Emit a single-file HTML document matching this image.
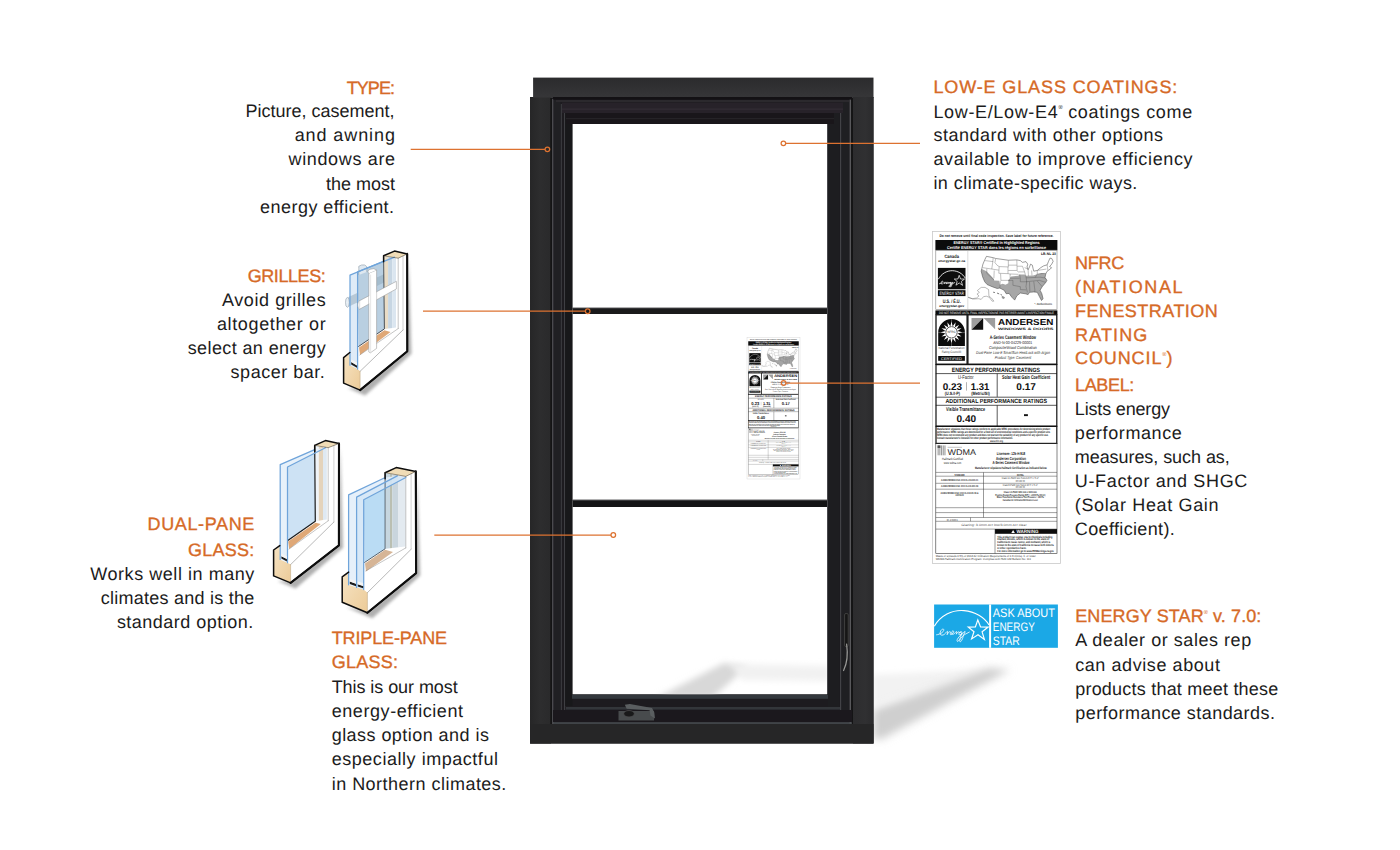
<!DOCTYPE html>
<html><head><meta charset="utf-8"><title>Energy-efficient window features</title>
<style>
html,body{margin:0;padding:0;background:#fff}
body{width:1400px;height:850px;overflow:hidden;position:relative;font-family:"Liberation Sans",sans-serif}
svg{position:absolute;left:0;top:0;display:block}
svg text{font-family:"Liberation Sans",sans-serif;text-rendering:geometricPrecision}
.t text{font-size:18.0px}
</style></head><body>
<svg width="1400" height="850" viewBox="0 0 1400 850">
<defs>
<filter id="blur6" x="-30%" y="-30%" width="160%" height="160%"><feGaussianBlur stdDeviation="4.5"/></filter>
<filter id="blur3" x="-30%" y="-30%" width="160%" height="160%"><feGaussianBlur stdDeviation="3"/></filter>
<filter id="blur1" x="-30%" y="-30%" width="160%" height="160%"><feGaussianBlur stdDeviation="1.6"/></filter>
<linearGradient id="gTop" x1="0" y1="0" x2="0" y2="1"><stop offset="0" stop-color="#2b2b2d"/><stop offset="1" stop-color="#363638"/></linearGradient>
<linearGradient id="gLeftOuter" x1="0" y1="0" x2="1" y2="0"><stop offset="0" stop-color="#262627"/><stop offset="0.5" stop-color="#2d2d2e"/><stop offset="1" stop-color="#2a2a2b"/></linearGradient>
<linearGradient id="gRightOuter" x1="0" y1="0" x2="1" y2="0"><stop offset="0" stop-color="#2c2c2e"/><stop offset="0.6" stop-color="#303032"/><stop offset="1" stop-color="#2a2a2c"/></linearGradient>
<linearGradient id="gShadowOut" x1="0" y1="0" x2="1" y2="0"><stop offset="0" stop-color="#bdbdbd"/><stop offset="0.5" stop-color="#d6d6d6"/><stop offset="1" stop-color="#ffffff"/></linearGradient>
<linearGradient id="gShadowIn" x1="0" y1="0" x2="1" y2="0"><stop offset="0" stop-color="#ffffff"/><stop offset="0.35" stop-color="#ececec"/><stop offset="1" stop-color="#dcdcdc"/></linearGradient>
<linearGradient id="gWood" x1="0" y1="0" x2="1" y2="1"><stop offset="0" stop-color="#f6e3c3"/><stop offset="1" stop-color="#eccb98"/></linearGradient>
</defs>

<g>
<polygon points="873,675 985,669 873,706" fill="#f2f2f2" filter="url(#blur3)"/>
<polygon points="873,710 988,668 1010,670 950,702 882,739 873,739" fill="#cfcfcf" filter="url(#blur6)"/>
</g>

<g id="frame">
<!-- body of frame -->
<rect x="530" y="97" width="343.5" height="646.5" fill="#1d1b1f"/>
<rect x="533.1" y="77.6" width="340.4" height="20.4" fill="url(#gTop)"/>
<!-- outer faces -->
<rect x="530" y="97.5" width="21" height="646" fill="url(#gLeftOuter)"/>
<rect x="853" y="97" width="20.5" height="646.5" fill="url(#gRightOuter)"/>
<rect x="530.3" y="724" width="343.2" height="19.5" fill="#262627"/>
<!-- grooves + highlights, left -->
<rect x="550.3" y="98" width="1.6" height="626" fill="#141415"/>
<rect x="552.2" y="99" width="1.3" height="625" fill="#56565a"/>
<rect x="553.6" y="100" width="7" height="622" fill="#202023"/>
<rect x="560.8" y="104" width="1.2" height="614" fill="#38383c"/>
<rect x="564" y="108" width="1.2" height="604" fill="#3f3f43"/>
<rect x="565.2" y="112" width="7.3" height="594" fill="#18181a"/>
<!-- right -->
<rect x="827" y="124" width="1" height="570" fill="#47474b"/>
<rect x="828" y="112" width="11.5" height="596" fill="#1d1d20"/>
<rect x="840" y="106" width="1.4" height="610" fill="#424246"/>
<rect x="841.5" y="102" width="8" height="618" fill="#1f1f22"/>
<rect x="849.6" y="99" width="1.4" height="625" fill="#58585b"/>
<rect x="851.2" y="98" width="1.7" height="626" fill="#141415"/>
<!-- top inner steps -->
<rect x="553" y="97" width="299" height="2.6" fill="#131114"/>
<rect x="556" y="100" width="293" height="2" fill="#2b292d"/>
<rect x="562" y="102.5" width="281" height="10.5" fill="#272229"/>
<rect x="562" y="108.5" width="281" height="1.3" fill="#322c34"/>
<rect x="566" y="113" width="268" height="11" fill="#19161a"/>
<rect x="566" y="118" width="268" height="1.2" fill="#252327"/>
<!-- bottom inner steps -->
<rect x="572" y="694.6" width="256" height="4.2" fill="#33383d"/>
<rect x="566" y="707" width="274" height="2.6" fill="#33363a"/>
<rect x="553" y="722.3" width="299" height="1.5" fill="#4a4f53"/>
<rect x="553" y="710" width="299" height="12" fill="#1b181d"/>
<!-- glass -->
<rect x="572.6" y="124" width="254.4" height="570.2" fill="#ffffff"/>
<!-- shadow seen through glass -->
<g clip-path="url(#glassClip)">
<polygon points="656,698 724,663 747,667 712,698" fill="#d8d8d8" filter="url(#blur3)"/>
<polygon points="730,664 830,666 830,681 742,680" fill="#f1f1f1" filter="url(#blur3)"/>
</g>
<clipPath id="glassClip"><rect x="572.6" y="124" width="254.4" height="570.2"/></clipPath>
<!-- grille bars -->
<rect x="572.6" y="308" width="254.4" height="6" fill="#1a1a1b"/>
<rect x="572.6" y="307.6" width="254.4" height="1.2" fill="#3a3a3c"/>
<rect x="572.6" y="500" width="254.4" height="7" fill="#141415"/>
<rect x="572.6" y="499.6" width="254.4" height="1.4" fill="#3a3a3c"/>
<!-- crank handle -->
<rect x="618.5" y="711" width="35.5" height="9.5" fill="#484b4d"/>
<polygon points="624.8,704.8 629.8,704.1 652,708 654.3,712.6 655,718.6 650.4,715.6 649.6,710.2 626.7,708.7" fill="#5a5e60"/>
<ellipse cx="629" cy="713.7" rx="5.3" ry="3.2" fill="#19191a" stroke="#4d4d4f" stroke-width="0.7"/>
<!-- sash lock on right -->
<rect x="844.6" y="613.5" width="3.6" height="33" rx="1.4" fill="#161616" stroke="#5a5a58" stroke-width="0.6"/>
<path d="M846.6 644 C848.2 655 847.2 663 843.6 670.5" fill="none" stroke="#9a9a98" stroke-width="1.2" stroke-linecap="round"/>
</g>

<g id="nfrcLabel">
<rect x="932.40" y="231.40" width="128.00" height="332.00" fill="#ffffff" stroke="#c9c9c9" stroke-width="0.80"/>
<text x="996.50" y="237.00" font-size="3.60" text-anchor="middle" font-weight="bold" textLength="114.00" lengthAdjust="spacingAndGlyphs" fill="#222">Do not remove until final code inspection. Save label for future reference.</text>
<rect x="935.40" y="240.00" width="122.00" height="10.20" fill="#0c0c0c"/>
<text x="996.50" y="244.40" font-size="4.10" text-anchor="middle" font-weight="bold" textLength="86.00" lengthAdjust="spacingAndGlyphs" fill="#fff">ENERGY STAR® Certified in Highlighted Regions</text>
<text x="996.50" y="249.00" font-size="4.10" text-anchor="middle" font-weight="bold" textLength="99.00" lengthAdjust="spacingAndGlyphs" fill="#fff">Certifié ENERGY STAR dans les régions en surbrillance</text>
<rect x="935.80" y="250.20" width="121.20" height="59.40" fill="none" stroke="#808080" stroke-width="0.60"/>
<path d="M967.80 250.60L967.80 309.40" stroke="#bbb" stroke-width="0.50" fill="none"/>
<text x="951.70" y="257.80" font-size="4.80" text-anchor="middle" font-weight="bold" textLength="14.50" lengthAdjust="spacingAndGlyphs" fill="#111">Canada</text>
<text x="951.70" y="262.20" font-size="3.40" text-anchor="middle" font-weight="bold" textLength="27.00" lengthAdjust="spacingAndGlyphs" fill="#111">energystar.gc.ca</text>
<rect x="937.90" y="267.90" width="27.60" height="21.40" fill="#0c0c0c"/>
<path d="M938.300 279.200C941.500 273.600 946.800 270.600 952.300 270.700C957.800 270.800 962.600 273.600 965.300 278.200" fill="none" stroke="#fff" stroke-width="0.85"/>
<g transform="translate(939.400 281.300) scale(0.470) translate(-936.600 -629.500)"><path d="M936.600 634.800c3.500-.4 6.800-2.600 7.200-4.600c.3-1.500-1.600-1.500-2.800.2c-1.400 2-1.300 4.700.8 4.800c1.900.1 3.600-1.600 4.600-3.100c.7-1 1.500-1.100 1.300-.1l-.6 2.700c.7-1.500 2-3.200 3-3.100c.8.100.1 1.600.2 2.600c.1.900 1.100.6 2-.3c1.200-1.200 1.800-2.700 1-3c-.9-.3-2 1.300-1.700 2.600c.3 1.100 1.800 1.100 3.100-.2c.6-.6 1-1.400 1.400-1.700c.3-.200.700 0 .6.600l-.4 2c.6-1.200 1.600-2.500 2.500-2.400c.5 0 .4.600.2 1.100c1.200-1.500 3.100-1.800 3-.3c-.1 1.300-1.700 2.800-2.800 2.200c-.8-.5-.2-2 .9-2.600l1.500 1.100c-.4 2.700-1.800 6.600-3.400 7.900c-.9.700-1.500-.200-1-1.500c.8-2.200 3.800-5 6.400-6.800c.4-1 .9-1.400 1.500-1.500c-.100 1.600-.6 2.400-1.500 3.300c-.500 2.700-1.500 5.600-2.800 6.800c-.8.700-1.400-.100-1-1.300c.7-2 2.900-4.400 5.300-5.900l4.200-2.200" fill="none" stroke="#fff" stroke-width="1.500" stroke-linecap="round" stroke-linejoin="round"/></g>
<path d="M959.200 275.300l1.350 3.700l3.950.05l-3.150 2.400l1.200 3.900l-3.300-2.350l-3.300 2.200l1.250-3.700l-2.950-2.450l3.650-.05z" fill="none" stroke="#fff" stroke-width="0.700" stroke-linejoin="miter"/>
<rect x="937.90" y="290.20" width="27.60" height="5.90" fill="#0c0c0c"/>
<text x="951.70" y="295.00" font-size="4.60" text-anchor="middle" textLength="24.50" lengthAdjust="spacingAndGlyphs" fill="#fff">ENERGY STAR</text>
<text x="951.70" y="302.80" font-size="5.00" text-anchor="middle" font-weight="bold" textLength="18.00" lengthAdjust="spacingAndGlyphs" fill="#111">U.S. / É.U.</text>
<text x="951.70" y="307.20" font-size="3.40" text-anchor="middle" font-weight="bold" textLength="25.00" lengthAdjust="spacingAndGlyphs" fill="#111">energystar.gov</text>
<text x="1056.00" y="254.90" font-size="3.50" text-anchor="end" font-weight="bold" textLength="15.00" lengthAdjust="spacingAndGlyphs" fill="#111">LB-NL 23</text>
<clipPath id="usclip"><path d="M986.47 256.35L985.05 259.17L982.94 264.11L981.88 268.35L981.17 271.17L982.58 276.82L984.70 281.76L987.17 284.58L992.11 286.70L997.05 288.46L999.87 288.11L1004.11 290.23L1006.23 293.75L1009.05 293.40L1011.87 297.28L1014.69 300.11L1016.81 295.87L1020.34 293.05L1025.28 293.75L1028.10 294.60L1029.51 292.34L1033.75 291.99L1037.28 292.34L1039.39 296.58L1041.51 300.53L1043.06 298.69L1041.86 293.75L1040.10 290.23L1042.22 286.70L1045.75 282.46L1046.95 280.35L1045.04 277.52L1045.75 273.99L1047.16 271.17L1050.33 269.05L1051.53 267.64L1049.63 266.58L1051.74 264.11L1053.16 261.29L1051.74 258.47L1049.98 258.12L1048.57 261.29L1047.16 264.82L1043.63 265.88L1040.81 267.64L1037.28 270.47L1033.75 271.17L1033.04 268.35L1032.34 265.17L1030.57 264.11L1029.51 266.94L1028.10 269.76L1027.04 266.94L1027.75 264.11L1025.99 261.64L1022.46 262.35L1020.34 260.59L1016.81 259.88L1008.34 260.23L995.64 258.47L993.52 257.76Z"/></clipPath>
<path d="M986.47 256.35L985.05 259.17L982.94 264.11L981.88 268.35L981.17 271.17L982.58 276.82L984.70 281.76L987.17 284.58L992.11 286.70L997.05 288.46L999.87 288.11L1004.11 290.23L1006.23 293.75L1009.05 293.40L1011.87 297.28L1014.69 300.11L1016.81 295.87L1020.34 293.05L1025.28 293.75L1028.10 294.60L1029.51 292.34L1033.75 291.99L1037.28 292.34L1039.39 296.58L1041.51 300.53L1043.06 298.69L1041.86 293.75L1040.10 290.23L1042.22 286.70L1045.75 282.46L1046.95 280.35L1045.04 277.52L1045.75 273.99L1047.16 271.17L1050.33 269.05L1051.53 267.64L1049.63 266.58L1051.74 264.11L1053.16 261.29L1051.74 258.47L1049.98 258.12L1048.57 261.29L1047.16 264.82L1043.63 265.88L1040.81 267.64L1037.28 270.47L1033.75 271.17L1033.04 268.35L1032.34 265.17L1030.57 264.11L1029.51 266.94L1028.10 269.76L1027.04 266.94L1027.75 264.11L1025.99 261.64L1022.46 262.35L1020.34 260.59L1016.81 259.88L1008.34 260.23L995.64 258.47L993.52 257.76Z" fill="#fff"/>
<path d="M978.70 268.49L981.88 268.91L986.47 271.17L989.99 274.70L993.88 278.93L994.23 280.49L999.17 280.77L999.87 284.72L1002.70 283.87L1005.52 284.72L1008.34 283.17L1008.34 280.35L1011.17 276.46L1018.22 275.83L1019.63 274.42L1024.57 274.42L1025.99 275.83L1033.04 275.41L1037.28 274.35L1041.51 272.94L1046.10 273.43L1049.27 273.99L1049.27 303.63L978.70 303.63Z" fill="#a6a6a6" clip-path="url(#usclip)"/>
<path d="M985.05 260.59L993.17 261.64" fill="none" stroke="#4a4a4a" stroke-width="0.35" clip-path="url(#usclip)"/>
<path d="M993.17 257.76L992.82 261.64L991.76 269.05" fill="none" stroke="#4a4a4a" stroke-width="0.35" clip-path="url(#usclip)"/>
<path d="M982.58 267.64L991.76 269.05L998.82 270.11" fill="none" stroke="#4a4a4a" stroke-width="0.35" clip-path="url(#usclip)"/>
<path d="M986.82 268.70L986.82 273.29L993.88 279.99" fill="none" stroke="#4a4a4a" stroke-width="0.35" clip-path="url(#usclip)"/>
<path d="M994.23 270.47L993.88 278.23" fill="none" stroke="#4a4a4a" stroke-width="0.35" clip-path="url(#usclip)"/>
<path d="M995.64 258.82L994.93 262.70L997.05 265.17L999.17 266.58" fill="none" stroke="#4a4a4a" stroke-width="0.35" clip-path="url(#usclip)"/>
<path d="M999.17 266.58L1008.34 266.94" fill="none" stroke="#4a4a4a" stroke-width="0.35" clip-path="url(#usclip)"/>
<path d="M999.17 266.58L998.82 273.29L1007.99 273.64" fill="none" stroke="#4a4a4a" stroke-width="0.35" clip-path="url(#usclip)"/>
<path d="M1000.58 273.64L1000.93 280.35L1009.75 280.35" fill="none" stroke="#4a4a4a" stroke-width="0.35" clip-path="url(#usclip)"/>
<path d="M1007.99 266.94L1007.99 273.64L1010.11 273.99" fill="none" stroke="#4a4a4a" stroke-width="0.35" clip-path="url(#usclip)"/>
<path d="M1000.23 280.70L999.87 288.46" fill="none" stroke="#4a4a4a" stroke-width="0.35" clip-path="url(#usclip)"/>
<path d="M1008.34 260.23L1008.34 266.94" fill="none" stroke="#4a4a4a" stroke-width="0.35" clip-path="url(#usclip)"/>
<path d="M1008.34 265.17L1016.81 265.17" fill="none" stroke="#4a4a4a" stroke-width="0.35" clip-path="url(#usclip)"/>
<path d="M1008.34 270.47L1016.81 270.47L1018.22 271.88" fill="none" stroke="#4a4a4a" stroke-width="0.35" clip-path="url(#usclip)"/>
<path d="M1010.11 273.99L1018.58 274.35" fill="none" stroke="#4a4a4a" stroke-width="0.35" clip-path="url(#usclip)"/>
<path d="M1010.11 273.99L1010.11 278.23L1019.63 278.23" fill="none" stroke="#4a4a4a" stroke-width="0.35" clip-path="url(#usclip)"/>
<path d="M1008.34 280.35L1012.93 280.35L1012.93 285.29L1020.34 286.70" fill="none" stroke="#4a4a4a" stroke-width="0.35" clip-path="url(#usclip)"/>
<path d="M1016.81 259.88L1017.16 270.47" fill="none" stroke="#4a4a4a" stroke-width="0.35" clip-path="url(#usclip)"/>
<path d="M1017.16 266.23L1022.46 266.23" fill="none" stroke="#4a4a4a" stroke-width="0.35" clip-path="url(#usclip)"/>
<path d="M1018.22 271.88L1024.57 271.88" fill="none" stroke="#4a4a4a" stroke-width="0.35" clip-path="url(#usclip)"/>
<path d="M1019.63 274.35L1020.34 278.23L1020.34 281.76" fill="none" stroke="#4a4a4a" stroke-width="0.35" clip-path="url(#usclip)"/>
<path d="M1020.34 281.76L1026.69 281.76" fill="none" stroke="#4a4a4a" stroke-width="0.35" clip-path="url(#usclip)"/>
<path d="M1020.34 286.70L1020.34 289.52L1025.99 289.87" fill="none" stroke="#4a4a4a" stroke-width="0.35" clip-path="url(#usclip)"/>
<path d="M1022.46 266.23L1024.57 271.88L1025.99 276.82L1026.69 281.76L1025.99 286.70L1027.40 292.34" fill="none" stroke="#4a4a4a" stroke-width="0.35" clip-path="url(#usclip)"/>
<path d="M1024.57 267.64L1028.10 269.05" fill="none" stroke="#4a4a4a" stroke-width="0.35" clip-path="url(#usclip)"/>
<path d="M1028.10 269.76L1028.46 276.11" fill="none" stroke="#4a4a4a" stroke-width="0.35" clip-path="url(#usclip)"/>
<path d="M1031.63 270.47L1031.98 275.41" fill="none" stroke="#4a4a4a" stroke-width="0.35" clip-path="url(#usclip)"/>
<path d="M1025.99 277.88L1040.10 277.17" fill="none" stroke="#4a4a4a" stroke-width="0.35" clip-path="url(#usclip)"/>
<path d="M1025.99 281.76L1039.39 280.35" fill="none" stroke="#4a4a4a" stroke-width="0.35" clip-path="url(#usclip)"/>
<path d="M1029.51 281.76L1029.87 291.64" fill="none" stroke="#4a4a4a" stroke-width="0.35" clip-path="url(#usclip)"/>
<path d="M1033.75 281.40L1034.81 289.52L1034.81 291.99" fill="none" stroke="#4a4a4a" stroke-width="0.35" clip-path="url(#usclip)"/>
<path d="M1037.28 281.05L1042.22 286.70" fill="none" stroke="#4a4a4a" stroke-width="0.35" clip-path="url(#usclip)"/>
<path d="M1039.39 280.35L1045.75 282.46" fill="none" stroke="#4a4a4a" stroke-width="0.35" clip-path="url(#usclip)"/>
<path d="M1040.10 277.17L1046.45 278.23" fill="none" stroke="#4a4a4a" stroke-width="0.35" clip-path="url(#usclip)"/>
<path d="M1037.28 270.47L1037.28 273.99L1035.16 277.52" fill="none" stroke="#4a4a4a" stroke-width="0.35" clip-path="url(#usclip)"/>
<path d="M1037.28 273.99L1045.75 273.29" fill="none" stroke="#4a4a4a" stroke-width="0.35" clip-path="url(#usclip)"/>
<path d="M1037.28 270.47L1046.45 269.05" fill="none" stroke="#4a4a4a" stroke-width="0.35" clip-path="url(#usclip)"/>
<path d="M1047.16 264.82L1047.86 270.47" fill="none" stroke="#4a4a4a" stroke-width="0.35" clip-path="url(#usclip)"/>
<path d="M986.47 256.35L985.05 259.17L982.94 264.11L981.88 268.35L981.17 271.17L982.58 276.82L984.70 281.76L987.17 284.58L992.11 286.70L997.05 288.46L999.87 288.11L1004.11 290.23L1006.23 293.75L1009.05 293.40L1011.87 297.28L1014.69 300.11L1016.81 295.87L1020.34 293.05L1025.28 293.75L1028.10 294.60L1029.51 292.34L1033.75 291.99L1037.28 292.34L1039.39 296.58L1041.51 300.53L1043.06 298.69L1041.86 293.75L1040.10 290.23L1042.22 286.70L1045.75 282.46L1046.95 280.35L1045.04 277.52L1045.75 273.99L1047.16 271.17L1050.33 269.05L1051.53 267.64L1049.63 266.58L1051.74 264.11L1053.16 261.29L1051.74 258.47L1049.98 258.12L1048.57 261.29L1047.16 264.82L1043.63 265.88L1040.81 267.64L1037.28 270.47L1033.75 271.17L1033.04 268.35L1032.34 265.17L1030.57 264.11L1029.51 266.94L1028.10 269.76L1027.04 266.94L1027.75 264.11L1025.99 261.64L1022.46 262.35L1020.34 260.59L1016.81 259.88L1008.34 260.23L995.64 258.47L993.52 257.76Z" fill="none" stroke="#3c3c3c" stroke-width="0.5"/>
<path d="M968.12 297.28L973.06 299.05L978.70 298.69L981.17 299.40L983.64 296.58L986.47 296.22L989.29 297.28L992.11 301.16L993.88 301.16L991.41 297.99L988.94 296.22L988.58 289.52L985.05 287.40L981.17 287.40L977.29 290.58L979.41 292.34L976.94 294.11L979.06 295.87L976.59 297.99L972.35 298.69Z" fill="#fff" stroke="#555" stroke-width="0.4"/>
<path d="M993.17 292.20L994.93 292.55 M997.05 293.05L999.17 293.90 M1000.58 294.46L1001.99 295.17" stroke="#555" stroke-width="0.8" fill="none"/>
<path d="M1001.99 296.22L1004.11 296.93L1004.67 297.99L1003.05 298.84L1002.13 297.64Z" fill="#999" stroke="#555" stroke-width="0.3"/>
<text x="1043.30" y="304.90" font-size="3.00" text-anchor="middle" font-weight="bold" textLength="17.50" lengthAdjust="spacingAndGlyphs" fill="#333">* - Northern/Centre</text>
<rect x="935.40" y="310.40" width="122.00" height="4.30" fill="#0c0c0c"/>
<text x="996.50" y="313.80" font-size="3.30" text-anchor="middle" textLength="115.00" lengthAdjust="spacingAndGlyphs" fill="#fff">DO NOT REMOVE UNTIL FINAL INSPECTION/NE PAS RETIRER AVANT L’INSPECTION FINALE</text>
<rect x="936.00" y="314.80" width="31.10" height="49.40" fill="none" stroke="#111" stroke-width="1.30"/>
<rect x="967.90" y="314.80" width="88.90" height="49.40" fill="none" stroke="#111" stroke-width="1.30"/>
<path d="M938.2 345.900V332.400A13.350 13.350 0 0 1 964.900 332.400V345.900Z" fill="#0c0c0c"/>
<path d="M951.50 321.50L952.71 326.22L955.63 322.32L954.94 327.14L959.14 324.66L956.66 328.86L961.48 328.17L957.58 331.09L962.30 332.30L957.58 333.51L961.48 336.43L956.66 335.74L959.14 339.94L954.94 337.46L955.63 342.28L952.71 338.38L951.50 343.10L950.29 338.38L947.37 342.28L948.06 337.46L943.86 339.94L946.34 335.74L941.52 336.43L945.42 333.51L940.70 332.30L945.42 331.09L941.52 328.17L946.34 328.86L943.86 324.66L948.06 327.14L947.37 322.32L950.29 326.22Z" fill="#fff"/>
<circle cx="951.50" cy="332.30" r="5.700" fill="#fff" stroke="#0c0c0c" stroke-width="0.7"/>
<path d="M938.20 332.60L964.90 332.60" stroke="#fff" stroke-width="0.30" fill="none"/>
<path d="M951.50 319.20L951.50 345.90" stroke="#fff" stroke-width="0.30" fill="none"/>
<text x="951.50" y="333.40" font-size="3.20" text-anchor="middle" textLength="8.20" lengthAdjust="spacingAndGlyphs" fill="#333">NFRC</text>
<text x="951.50" y="349.40" font-size="3.40" text-anchor="middle" textLength="26.00" lengthAdjust="spacingAndGlyphs" fill="#444">National Fenestration</text>
<text x="951.50" y="353.30" font-size="3.40" text-anchor="middle" textLength="19.50" lengthAdjust="spacingAndGlyphs" fill="#444">Rating Council®</text>
<rect x="938.20" y="356.00" width="26.70" height="4.80" fill="#0c0c0c"/>
<text x="951.50" y="359.80" font-size="3.70" text-anchor="middle" textLength="21.00" lengthAdjust="spacingAndGlyphs" fill="#fff">CERTIFIED</text>
<path d="M971.500 318V329.700L983.200 318Z" fill="#9d9d9d"/>
<path d="M983.200 318V329.700H971.500Z" fill="#111"/>
<path d="M983.600 318H995.100V329.200Z" fill="#9d9d9d"/>
<text x="998.00" y="324.90" font-size="8.70" text-anchor="start" font-weight="bold" textLength="55.40" lengthAdjust="spacingAndGlyphs" fill="#0c0c0c">ANDERSEN</text>
<text x="998.00" y="329.80" font-size="3.40" text-anchor="start" font-weight="bold" textLength="55.40" lengthAdjust="spacingAndGlyphs" fill="#222">WINDOWS &amp; DOORS</text>
<text x="1012.90" y="338.70" font-size="5.20" text-anchor="middle" font-weight="bold" textLength="46.30" lengthAdjust="spacingAndGlyphs" fill="#111">A-Series Casement Window</text>
<text x="1012.70" y="343.70" font-size="4.20" text-anchor="middle" textLength="39.00" lengthAdjust="spacingAndGlyphs" fill="#222">AND-N-00-04229-00001</text>
<text x="1012.90" y="349.00" font-size="4.20" text-anchor="middle" font-style="italic" textLength="47.80" lengthAdjust="spacingAndGlyphs" fill="#222">Composite/Wood Combination</text>
<text x="1013.10" y="354.00" font-size="4.20" text-anchor="middle" font-style="italic" textLength="74.00" lengthAdjust="spacingAndGlyphs" fill="#333">Dual-Pane Low-E SmartSun HeatLock with Argon</text>
<text x="1013.00" y="359.10" font-size="4.20" text-anchor="middle" font-style="italic" textLength="36.30" lengthAdjust="spacingAndGlyphs" fill="#333">Product Type: Casement</text>
<rect x="936.00" y="364.60" width="120.80" height="61.60" fill="none" stroke="#111" stroke-width="1.20"/>
<text x="995.90" y="371.70" font-size="6.20" text-anchor="middle" font-weight="bold" textLength="88.40" lengthAdjust="spacingAndGlyphs" fill="#111">ENERGY PERFORMANCE RATINGS</text>
<path d="M935.80 373.60L1057.00 373.60" stroke="#111" stroke-width="0.70" fill="none"/>
<text x="965.80" y="378.90" font-size="5.40" text-anchor="middle" textLength="15.40" lengthAdjust="spacingAndGlyphs" fill="#111">U-Factor</text>
<text x="1026.10" y="378.90" font-size="5.40" text-anchor="middle" font-weight="bold" textLength="48.20" lengthAdjust="spacingAndGlyphs" fill="#111">Solar Heat Gain Coefficient</text>
<path d="M997.20 373.60L997.20 396.90" stroke="#111" stroke-width="0.70" fill="none"/>
<text x="952.40" y="389.50" font-size="9.80" text-anchor="middle" font-weight="bold" textLength="19.40" lengthAdjust="spacingAndGlyphs" fill="#111">0.23</text>
<path d="M966.50 382.20L966.50 390.60" stroke="#666" stroke-width="0.50" fill="none"/>
<text x="980.00" y="389.50" font-size="9.80" text-anchor="middle" font-weight="bold" textLength="18.50" lengthAdjust="spacingAndGlyphs" fill="#111">1.31</text>
<text x="1026.10" y="389.50" font-size="9.80" text-anchor="middle" font-weight="bold" textLength="19.60" lengthAdjust="spacingAndGlyphs" fill="#111">0.17</text>
<text x="952.40" y="394.90" font-size="4.60" text-anchor="middle" font-weight="bold" textLength="15.20" lengthAdjust="spacingAndGlyphs" fill="#111">(U.S./I-P)</text>
<text x="980.50" y="394.90" font-size="4.60" text-anchor="middle" font-weight="bold" textLength="18.50" lengthAdjust="spacingAndGlyphs" fill="#111">(Metric/SI)</text>
<path d="M935.80 397.20L1057.00 397.20" stroke="#111" stroke-width="0.70" fill="none"/>
<text x="996.20" y="403.30" font-size="6.00" text-anchor="middle" font-weight="bold" textLength="101.60" lengthAdjust="spacingAndGlyphs" fill="#111">ADDITIONAL PERFORMANCE RATINGS</text>
<path d="M935.80 405.30L1057.00 405.30" stroke="#111" stroke-width="0.70" fill="none"/>
<text x="965.60" y="410.80" font-size="5.40" text-anchor="middle" font-weight="bold" textLength="39.00" lengthAdjust="spacingAndGlyphs" fill="#111">Visible Transmittance</text>
<text x="966.30" y="422.00" font-size="9.80" text-anchor="middle" font-weight="bold" textLength="19.60" lengthAdjust="spacingAndGlyphs" fill="#111">0.40</text>
<rect x="1024.00" y="414.20" width="3.90" height="1.90" fill="#111"/>
<path d="M997.20 405.30L997.20 426.00" stroke="#111" stroke-width="0.70" fill="none"/>
<rect x="936.00" y="426.40" width="120.80" height="17.00" fill="none" stroke="#111" stroke-width="1.20"/>
<text x="936.90" y="429.80" font-size="3.20" text-anchor="start" font-weight="bold" textLength="113.30" lengthAdjust="spacingAndGlyphs" fill="#111">Manufacturer stipulates that these ratings conform to applicable NFRC procedures for determining whole product</text>
<text x="936.90" y="432.85" font-size="3.20" text-anchor="start" font-weight="bold" textLength="113.50" lengthAdjust="spacingAndGlyphs" fill="#111">performance. NFRC ratings are determined for a fixed set of environmental conditions and a specific product size.</text>
<text x="936.90" y="435.90" font-size="3.20" text-anchor="start" font-weight="bold" textLength="111.50" lengthAdjust="spacingAndGlyphs" fill="#111">NFRC does not recommend any product and does not warrant the suitability of any product for any specific use.</text>
<text x="936.90" y="438.95" font-size="3.20" text-anchor="start" font-weight="bold" textLength="76.00" lengthAdjust="spacingAndGlyphs" fill="#111">Consult manufacturer’s literature for other product performance information.</text>
<text x="996.50" y="442.10" font-size="3.00" text-anchor="middle" font-weight="bold" textLength="13.00" lengthAdjust="spacingAndGlyphs" fill="#222">www.nfrc.org</text>
<rect x="935.80" y="443.60" width="121.20" height="109.90" fill="none" stroke="#333" stroke-width="0.60"/>
<rect x="937.60" y="445.40" width="1.10" height="9.90" fill="#9a9a9a"/>
<rect x="939.30" y="445.40" width="1.10" height="9.90" fill="#9a9a9a"/>
<rect x="941.00" y="445.40" width="1.10" height="9.90" fill="#9a9a9a"/>
<rect x="942.70" y="445.40" width="1.10" height="9.90" fill="#9a9a9a"/>
<rect x="944.40" y="445.40" width="1.10" height="9.90" fill="#9a9a9a"/>
<rect x="937.60" y="445.40" width="2.80" height="2.60" fill="#555"/>
<text x="947.40" y="455.30" font-size="8.20" text-anchor="start" textLength="28.50" lengthAdjust="spacingAndGlyphs" fill="#2a2a2a">WDMA</text>
<path d="M947.60 447.30L962.00 447.30" stroke="#aaa" stroke-width="0.70" fill="none"/>
<text x="952.60" y="459.70" font-size="3.30" text-anchor="middle" textLength="21.00" lengthAdjust="spacingAndGlyphs" fill="#222">Hallmark Certified</text>
<text x="952.60" y="463.60" font-size="3.30" text-anchor="middle" textLength="17.50" lengthAdjust="spacingAndGlyphs" fill="#222">www.wdma.com</text>
<text x="1011.00" y="454.80" font-size="4.20" text-anchor="middle" font-weight="bold" textLength="28.50" lengthAdjust="spacingAndGlyphs" fill="#111">Licensee: 125-H-918</text>
<text x="1011.00" y="460.00" font-size="4.40" text-anchor="middle" font-weight="bold" textLength="30.00" lengthAdjust="spacingAndGlyphs" fill="#111">Andersen Corporation</text>
<text x="1011.00" y="463.90" font-size="4.40" text-anchor="middle" font-weight="bold" textLength="37.00" lengthAdjust="spacingAndGlyphs" fill="#111">A-Series Casement Window</text>
<text x="1011.00" y="468.50" font-size="3.30" text-anchor="middle" font-weight="bold" textLength="72.00" lengthAdjust="spacingAndGlyphs" fill="#111">Manufacturer stipulates Hallmark Certification as indicated below.</text>
<path d="M935.80 472.40L1057.00 472.40" stroke="#444" stroke-width="0.50" fill="none"/>
<path d="M935.80 476.20L1057.00 476.20" stroke="#444" stroke-width="0.50" fill="none"/>
<path d="M935.80 483.30L1057.00 483.30" stroke="#444" stroke-width="0.50" fill="none"/>
<path d="M935.80 489.20L1057.00 489.20" stroke="#444" stroke-width="0.50" fill="none"/>
<path d="M935.80 507.70L1057.00 507.70" stroke="#444" stroke-width="0.50" fill="none"/>
<path d="M935.80 512.60L1057.00 512.60" stroke="#444" stroke-width="0.50" fill="none"/>
<path d="M935.80 517.50L1057.00 517.50" stroke="#444" stroke-width="0.50" fill="none"/>
<path d="M983.50 472.40L983.50 517.50" stroke="#333" stroke-width="0.50" fill="none"/>
<text x="959.60" y="475.50" font-size="3.00" text-anchor="middle" font-weight="bold" textLength="10.00" lengthAdjust="spacingAndGlyphs" fill="#111">STANDARD</text>
<text x="1020.30" y="475.50" font-size="3.00" text-anchor="middle" font-weight="bold" textLength="6.50" lengthAdjust="spacingAndGlyphs" fill="#111">RATING</text>
<text x="959.60" y="480.50" font-size="2.90" text-anchor="middle" font-weight="bold" textLength="37.00" lengthAdjust="spacingAndGlyphs" fill="#333">AAMA/WDMA/CSA 101/I.S.2/A440-11</text>
<text x="959.60" y="486.80" font-size="2.90" text-anchor="middle" font-weight="bold" textLength="37.00" lengthAdjust="spacingAndGlyphs" fill="#333">AAMA/WDMA/CSA 101/I.S.2/A440-08</text>
<text x="959.60" y="493.50" font-size="2.90" text-anchor="middle" font-weight="bold" textLength="38.00" lengthAdjust="spacingAndGlyphs" fill="#333">AAMA/WDMA/CSA 101/I.S.2/A440-08 &amp;</text>
<text x="959.60" y="496.00" font-size="2.90" text-anchor="middle" font-weight="bold" textLength="8.00" lengthAdjust="spacingAndGlyphs" fill="#222">A440S1-09</text>
<text x="1020.30" y="479.30" font-size="2.80" text-anchor="middle" textLength="37.00" lengthAdjust="spacingAndGlyphs" fill="#333">Class LC-PG50 Size Tested 35.5" x 71.3"</text>
<text x="1020.30" y="481.80" font-size="2.80" text-anchor="middle" textLength="9.00" lengthAdjust="spacingAndGlyphs" fill="#333">DP+50/-50</text>
<text x="1020.30" y="485.60" font-size="2.80" text-anchor="middle" textLength="35.00" lengthAdjust="spacingAndGlyphs" fill="#333">Class R-PG50 Size Tested 35.5" x 71.3"</text>
<text x="1020.30" y="488.10" font-size="2.80" text-anchor="middle" textLength="9.00" lengthAdjust="spacingAndGlyphs" fill="#333">DP+50/-50</text>
<text x="1020.30" y="493.10" font-size="2.80" text-anchor="middle" font-weight="bold" textLength="33.00" lengthAdjust="spacingAndGlyphs" fill="#222">Class LC-PG50 1803 mm x 1803 mm</text>
<text x="1020.30" y="495.65" font-size="2.80" text-anchor="middle" font-weight="bold" textLength="50.00" lengthAdjust="spacingAndGlyphs" fill="#222">Positive Design Pressure Rating (DP) = +2400 Pa (50.13)</text>
<text x="1020.30" y="498.20" font-size="2.80" text-anchor="middle" font-weight="bold" textLength="47.00" lengthAdjust="spacingAndGlyphs" fill="#222">Water Penetration Resistance Test Pressure = 360 Pa</text>
<text x="1020.30" y="500.75" font-size="2.80" text-anchor="middle" font-weight="bold" textLength="35.00" lengthAdjust="spacingAndGlyphs" fill="#222">Canadian Air Infiltration/Exfiltration Level</text>
<path d="M970.50 517.50L970.50 521.30" stroke="#444" stroke-width="0.50" fill="none"/>
<path d="M935.80 521.30L1057.00 521.30" stroke="#444" stroke-width="0.50" fill="none"/>
<text x="952.30" y="520.60" font-size="2.80" text-anchor="middle" textLength="11.00" lengthAdjust="spacingAndGlyphs" fill="#444">R-15001</text>
<text x="994.00" y="526.30" font-size="3.10" text-anchor="middle" textLength="65.30" lengthAdjust="spacingAndGlyphs" fill="#555">Glazing: 3.0mm AR low/3.0mm AR clear</text>
<path d="M935.80 529.10L1057.00 529.10" stroke="#333" stroke-width="0.50" fill="none"/>
<rect x="995.00" y="529.10" width="62.00" height="4.70" fill="#0c0c0c"/>
<path d="M995.00 529.10L995.00 553.50" stroke="#333" stroke-width="0.50" fill="none"/>
<path d="M1011.300 533.100l1.800-3.200l1.800 3.200z" fill="#fff"/>
<text x="1027.50" y="533.10" font-size="4.60" text-anchor="middle" font-weight="bold" textLength="22.00" lengthAdjust="spacingAndGlyphs" fill="#fff">WARNING</text>
<text x="997.30" y="537.50" font-size="3.00" text-anchor="start" font-weight="bold" textLength="55.00" lengthAdjust="spacingAndGlyphs" fill="#111">This product can expose you to chemicals including</text>
<text x="997.30" y="540.40" font-size="3.00" text-anchor="start" font-weight="bold" textLength="52.00" lengthAdjust="spacingAndGlyphs" fill="#111">titanium dioxide, which is known to the state of</text>
<text x="997.30" y="543.30" font-size="3.00" text-anchor="start" font-weight="bold" textLength="53.00" lengthAdjust="spacingAndGlyphs" fill="#111">California to cause cancer, and methanol, which is</text>
<text x="997.30" y="546.20" font-size="3.00" text-anchor="start" font-weight="bold" textLength="56.50" lengthAdjust="spacingAndGlyphs" fill="#111">known to the state of California to cause birth defects</text>
<text x="997.30" y="549.10" font-size="3.00" text-anchor="start" font-weight="bold" textLength="29.00" lengthAdjust="spacingAndGlyphs" fill="#111">or other reproductive harm.</text>
<text x="997.30" y="552.00" font-size="3.00" text-anchor="start" font-weight="bold" textLength="56.50" lengthAdjust="spacingAndGlyphs" fill="#111">For more information go to www.P65Warnings.ca.gov</text>
<text x="935.70" y="556.90" font-size="3.00" text-anchor="start" textLength="100.60" lengthAdjust="spacingAndGlyphs" fill="#333">Meets or exceeds 0.5% or 2012 Air Infiltration Requirements of 0.3 cfm/sq. ft. or lower.</text>
<text x="935.70" y="559.80" font-size="3.00" text-anchor="start" textLength="95.20" lengthAdjust="spacingAndGlyphs" fill="#333">WDMA Hallmark Certification Program. Complies with HUD UM Bulletin No. 111</text>
</g>
<use href="#nfrcLabel" transform="translate(747.000 337.600) scale(0.4141 0.4259) translate(-932.4 -231.4)"/>

<g id="badge">
<rect x="934.1" y="604.5" width="123.8" height="43.3" fill="#1ba8e6"/>
<rect x="989.1" y="604.5" width="2" height="43.3" fill="#ffffff"/>
<path d="M934.3 626.200C940.500 615.500 952 609.600 964 610.600C975 611.500 984.500 617.500 989 625" fill="none" stroke="#fff" stroke-width="1.15"/>
<path d="M977.800 619.900l2.750 7.100l7.650.1l-6.100 4.700l2.300 7.600l-6.400-4.600l-6.400 4.100l2.400-7.100l-5.700-4.700l7.100-.1z" fill="none" stroke="#fff" stroke-width="1.2" stroke-linejoin="miter"/>
<path d="M936.600 634.800c3.500-.4 6.800-2.600 7.200-4.600c.3-1.500-1.600-1.500-2.800.2c-1.400 2-1.300 4.700.8 4.800c1.900.1 3.600-1.600 4.600-3.100c.7-1 1.500-1.100 1.300-.1l-.6 2.700c.7-1.500 2-3.200 3-3.100c.8.100.1 1.600.2 2.600c.1.900 1.100.6 2-.3c1.200-1.200 1.800-2.700 1-3c-.9-.3-2 1.300-1.700 2.600c.3 1.100 1.800 1.100 3.100-.2c.6-.6 1-1.400 1.400-1.700c.3-.200.700 0 .6.600l-.4 2c.6-1.200 1.600-2.500 2.500-2.400c.5 0 .4.600.2 1.100c1.200-1.500 3.100-1.800 3-.3c-.1 1.300-1.700 2.800-2.800 2.200c-.8-.5-.2-2 .9-2.600l1.500 1.100c-.4 2.700-1.800 6.600-3.400 7.900c-.9.700-1.500-.200-1-1.500c.8-2.200 3.800-5 6.400-6.800c.4-1 .9-1.400 1.500-1.500c-.100 1.600-.6 2.400-1.500 3.300c-.500 2.700-1.500 5.600-2.800 6.800c-.8.700-1.400-.100-1-1.300c.7-2 2.900-4.400 5.300-5.900l4.200-2.200" fill="none" stroke="#fff" stroke-width="0.8" stroke-linecap="round" stroke-linejoin="round"/>
<g fill="#ffffff" font-size="12.3">
<text x="992.8" y="616.8" textLength="62.2" lengthAdjust="spacingAndGlyphs">ASK ABOUT</text>
<text x="992.8" y="630.7" textLength="42" lengthAdjust="spacingAndGlyphs">ENERGY</text>
<text x="992.8" y="644.5" textLength="27" lengthAdjust="spacingAndGlyphs">STAR</text>
</g>
</g>

<g id="dual">
<polygon points="340.5,447.5 343.1,547.8 295.6,588.4 277.6,580.9 290.6,580.9 336.9,541.3" fill="#777777" filter="url(#blur1)" opacity="0.58"/>
<polygon points="314.7,445.4 325.4,440.6 339.0,443.5 338.9,545.3 290.6,582.9 273.6,575.9 273.6,550.0 279.8,545.6 287.8,540.6 315.3,521.3" fill="#ffffff"/>
<polygon points="315.3,445.8 318.8,446.4 318.8,520.8 315.3,521.3" fill="#eef3f8"/>
<polygon points="318.8,446.4 323.0,447.1 323.0,520.1 318.8,520.8" fill="#e4d3bb"/>
<polygon points="323.0,447.1 326.8,447.8 326.8,519.6 323.0,520.1" fill="#dfe9f2"/>
<polygon points="314.7,445.4 325.4,440.6 339.0,443.5 328.2,447.7" fill="#f0dcb6"/>
<polygon points="273.6,550.0 279.8,545.6 280.2,559.4 287.5,562.7 290.6,564.6 290.6,582.9 273.6,575.9" fill="url(#gWood)"/>
<polygon points="288.2,541.6 315.5,522.7 320.7,524.1 289.2,549.1" fill="#dfa877"/>
<polygon points="287.5,467.0 314.7,453.1 315.3,521.3 287.8,540.6" fill="#cde2f4"/>
<polygon points="280.2,464.6 314.7,449.6 325.4,447.7 287.5,467.0 287.5,562.7 280.2,559.4" fill="#e4eff9" opacity="0.9"/>
<polyline points="314.7,445.4 315.3,521.3 287.8,540.6" fill="none" stroke="#1a1a1a" stroke-width="1.20" stroke-linejoin="round" stroke-linecap="round"/>
<polyline points="328.2,447.7 328.2,520.8" fill="none" stroke="#8a8a8a" stroke-width="0.50" stroke-linejoin="round" stroke-linecap="round"/>
<polyline points="333.9,445.6 333.9,522.0" fill="none" stroke="#9a9a9a" stroke-width="0.45" stroke-linejoin="round" stroke-linecap="round"/>
<polyline points="290.6,564.6 333.9,522.0" fill="none" stroke="#7d7d7d" stroke-width="0.55" stroke-linejoin="round" stroke-linecap="round"/>
<polyline points="289.0,549.1 328.2,520.8" fill="none" stroke="#8a8a8a" stroke-width="0.50" stroke-linejoin="round" stroke-linecap="round"/>
<polyline points="290.6,564.6 290.6,582.9" fill="none" stroke="#b9a27c" stroke-width="0.50" stroke-linejoin="round" stroke-linecap="round"/>
<polyline points="280.2,559.4 280.2,464.6 314.7,449.6" fill="none" stroke="#6fa4da" stroke-width="1.25" stroke-linejoin="round" stroke-linecap="round"/>
<polyline points="287.5,562.7 287.5,467.0 325.4,447.7" fill="none" stroke="#6fa4da" stroke-width="1.25" stroke-linejoin="round" stroke-linecap="round"/>
<polygon points="281.4,556.2 286.9,559.1 286.9,561.5 281.4,558.6" fill="#1c1c1c"/>
<polygon points="281.4,553.6 286.9,556.3 286.9,559.1 281.4,556.2" fill="#f4f4f4"/>
<polyline points="314.7,451.4 314.7,445.4 325.4,440.6 339.0,443.5 338.9,545.3 290.6,582.9 273.6,575.9 273.6,550.0 279.8,545.6" fill="none" stroke="#0d0d0d" stroke-width="1.50" stroke-linejoin="round" stroke-linecap="round"/>
<polyline points="339.0,443.5 338.9,545.3 290.6,582.9" fill="none" stroke="#0d0d0d" stroke-width="2.10" stroke-linejoin="round" stroke-linecap="round"/>
<polyline points="314.7,445.4 328.2,447.7 339.0,443.5" fill="none" stroke="#3a3326" stroke-width="0.50" stroke-linejoin="round" stroke-linecap="round"/>
</g>
<g id="triple">
<polygon points="417.3,475.4 420.3,575.6 372.4,618.3 346.2,607.2 367.4,610.8 414.1,569.1" fill="#777777" filter="url(#blur1)" opacity="0.58"/>
<polygon points="385.1,472.7 396.2,467.6 415.8,471.4 416.1,573.1 367.4,612.8 342.2,602.2 342.2,576.8 348.6,572.1 364.5,562.5 385.1,548.8" fill="#ffffff"/>
<polygon points="385.6,473.1 390.0,473.9 390.0,548.2 385.6,548.7" fill="#c6d6df"/>
<polygon points="390.0,473.9 392.2,474.3 392.2,548.0 390.0,548.2" fill="#babfb2"/>
<polygon points="392.2,474.3 398.5,475.4 398.5,547.3 392.2,548.0" fill="#c9d5dd"/>
<polygon points="398.5,475.4 405.5,476.6 405.5,546.5 398.5,547.3" fill="#e3eaf0"/>
<polygon points="385.1,472.7 396.2,467.6 415.8,471.4 405.8,476.4" fill="#f0dcb6"/>
<polygon points="342.2,576.8 348.6,572.1 348.6,584.8 363.7,589.5 367.4,592.7 367.4,612.8 342.2,602.2" fill="url(#gWood)"/>
<polygon points="365.0,563.6 385.1,549.8 393.0,552.0 366.0,571.5" fill="#d6b596"/>
<polygon points="363.7,499.7 385.1,488.4 385.1,548.8 364.5,562.5" fill="#badcf4"/>
<polygon points="348.6,494.9 385.3,477.5 397.3,475.9 356.6,497.1 356.6,587.4 348.6,584.8" fill="#e3eef9" opacity="0.9"/>
<polygon points="356.6,497.1 397.3,475.9 405.8,477.5 363.7,499.7 363.7,589.5 356.6,587.4" fill="#d3e6f6" opacity="0.9"/>
<polyline points="385.1,472.7 385.1,548.8 364.5,562.5" fill="none" stroke="#46525d" stroke-width="0.90" stroke-linejoin="round" stroke-linecap="round"/>
<polyline points="405.8,476.4 405.8,547.9" fill="none" stroke="#8a8a8a" stroke-width="0.50" stroke-linejoin="round" stroke-linecap="round"/>
<polyline points="411.1,473.9 411.1,549.3" fill="none" stroke="#9a9a9a" stroke-width="0.45" stroke-linejoin="round" stroke-linecap="round"/>
<polyline points="367.4,592.7 411.1,549.3" fill="none" stroke="#7d7d7d" stroke-width="0.55" stroke-linejoin="round" stroke-linecap="round"/>
<polyline points="365.7,571.0 405.8,547.9" fill="none" stroke="#8a8a8a" stroke-width="0.50" stroke-linejoin="round" stroke-linecap="round"/>
<polyline points="367.4,592.7 367.4,612.8" fill="none" stroke="#b9a27c" stroke-width="0.50" stroke-linejoin="round" stroke-linecap="round"/>
<polyline points="348.6,584.8 348.6,494.9 385.3,477.5" fill="none" stroke="#6fa4da" stroke-width="1.25" stroke-linejoin="round" stroke-linecap="round"/>
<polyline points="356.6,587.4 356.6,497.1 397.3,475.9" fill="none" stroke="#6fa4da" stroke-width="1.25" stroke-linejoin="round" stroke-linecap="round"/>
<polyline points="363.7,589.5 363.7,499.7 405.8,477.5" fill="none" stroke="#6fa4da" stroke-width="1.25" stroke-linejoin="round" stroke-linecap="round"/>
<polygon points="349.8,581.6 356.0,583.8 356.0,586.2 349.8,584.0" fill="#1c1c1c"/>
<polygon points="349.8,579.0 356.0,581.0 356.0,583.8 349.8,581.6" fill="#f4f4f4"/>
<polygon points="357.8,584.2 363.1,585.9 363.1,588.3 357.8,586.6" fill="#1c1c1c"/>
<polygon points="357.8,581.6 363.1,583.1 363.1,585.9 357.8,584.2" fill="#f4f4f4"/>
<polyline points="385.1,478.7 385.1,472.7 396.2,467.6 415.8,471.4 416.1,573.1 367.4,612.8 342.2,602.2 342.2,576.8 348.6,572.1" fill="none" stroke="#0d0d0d" stroke-width="1.50" stroke-linejoin="round" stroke-linecap="round"/>
<polyline points="415.8,471.4 416.1,573.1 367.4,612.8" fill="none" stroke="#0d0d0d" stroke-width="2.10" stroke-linejoin="round" stroke-linecap="round"/>
<polyline points="385.1,472.7 405.8,476.4 415.8,471.4" fill="none" stroke="#3a3326" stroke-width="0.50" stroke-linejoin="round" stroke-linecap="round"/>
</g>
<g id="grille">
<polygon points="408.7,257.9 411.5,353.8 365.1,395.6 347.6,388.1 360.1,388.1 405.3,347.3" fill="#777777" filter="url(#blur1)" opacity="0.58"/>
<polygon points="383.6,255.8 394.5,251.1 407.2,253.9 407.3,351.3 360.1,390.1 343.6,383.1 343.6,357.6 349.8,352.5 358.5,346.5 384.4,328.9" fill="#ffffff"/>
<polygon points="384.2,256.2 388.1,256.8 388.1,328.4 384.2,328.9" fill="#e9dcc6"/>
<polygon points="388.1,256.8 392.4,257.5 392.4,327.9 388.1,328.4" fill="#c7d6e3"/>
<polygon points="392.4,257.5 396.0,258.1 396.0,327.4 392.4,327.9" fill="#dbe6f0"/>
<polygon points="383.6,255.8 394.5,251.1 407.2,253.9 398.2,258.2" fill="#f0dcb6"/>
<polygon points="343.6,357.6 349.8,352.5 350.0,365.2 357.6,369.0 360.1,371.3 360.1,390.1 343.6,383.1" fill="url(#gWood)"/>
<polygon points="359.0,347.5 384.4,330.3 390.5,332.0 360.0,355.0" fill="#dfa877"/>
<polygon points="357.6,271.8 383.6,261.5 384.4,328.9 358.5,346.5" fill="#b9cfe1"/>
<polygon points="350.0,275.1 384.1,261.0 394.5,257.2 357.6,271.8 357.6,369.0 350.0,365.2" fill="#dbe9f6" opacity="0.9"/>
<polygon points="347.5,297.6 358.2,292.5 358.2,302.0 347.5,307.2" fill="#a9bccb" opacity="0.75"/>
<ellipse cx="347.4" cy="302.4" rx="1.9" ry="4.9" fill="#e8eff5" stroke="#7f8c99" stroke-width="0.5"/>
<path d="M358.8 275V268.500a4 2.600 0 0 1 8 -1.800V272" fill="#dfe8f0" stroke="#7f8c99" stroke-width="0.5"/>
<polygon points="376.8,277.5 384.0,274.2 384.0,282.5 376.8,286.0" fill="#9fb6c8" opacity="0.8"/>
<polyline points="383.6,255.8 384.4,328.9 358.5,346.5" fill="none" stroke="#3a3f45" stroke-width="0.90" stroke-linejoin="round" stroke-linecap="round"/>
<polyline points="398.2,258.2 398.2,328.6" fill="none" stroke="#8a8a8a" stroke-width="0.50" stroke-linejoin="round" stroke-linecap="round"/>
<polyline points="403.0,256.1 403.0,330.0" fill="none" stroke="#9a9a9a" stroke-width="0.45" stroke-linejoin="round" stroke-linecap="round"/>
<polyline points="360.1,371.3 403.0,330.0" fill="none" stroke="#7d7d7d" stroke-width="0.55" stroke-linejoin="round" stroke-linecap="round"/>
<polyline points="359.7,355.0 398.2,328.6" fill="none" stroke="#8a8a8a" stroke-width="0.50" stroke-linejoin="round" stroke-linecap="round"/>
<polyline points="360.1,371.3 360.1,390.1" fill="none" stroke="#b9a27c" stroke-width="0.50" stroke-linejoin="round" stroke-linecap="round"/>
<polyline points="350.0,365.2 350.0,275.1 384.1,261.0" fill="none" stroke="#6fa4da" stroke-width="1.25" stroke-linejoin="round" stroke-linecap="round"/>
<polyline points="357.6,369.0 357.6,271.8 394.5,257.2" fill="none" stroke="#6fa4da" stroke-width="1.25" stroke-linejoin="round" stroke-linecap="round"/>
<polygon points="351.2,362.0 357.0,365.4 357.0,367.8 351.2,364.4" fill="#1c1c1c"/>
<polygon points="351.2,359.4 357.0,362.6 357.0,365.4 351.2,362.0" fill="#f4f4f4"/>
<polygon points="359.6,300.7 396.4,281.3 396.4,288.9 359.6,309.2" fill="#ffffff" stroke="#8d8d8d" stroke-width="0.50" stroke-linejoin="round"/>
<path d="M359.600 300.700a2.200 4.300 0 0 0 0 8.500" fill="#ffffff" stroke="#8d8d8d" stroke-width="0.5"/>
<polygon points="368.8,273.2 376.6,270.0 376.6,348.4 370.4,352.8 368.8,352.0" fill="#ffffff" stroke="#8d8d8d" stroke-width="0.50" stroke-linejoin="round"/>
<path d="M368.800 273.200a3.900 2.300 0 0 1 7.800 -3.200" fill="#ffffff" stroke="#8d8d8d" stroke-width="0.5"/>
<polygon points="369.1,296.2 376.3,292.4 376.3,299.6 369.1,303.4" fill="#ffffff"/>
<polyline points="370.6,275.0 370.6,351.5" fill="none" stroke="#c9c9c9" stroke-width="0.45" stroke-linejoin="round" stroke-linecap="round"/>
<polyline points="383.6,261.8 383.6,255.8 394.5,251.1 407.2,253.9 407.3,351.3 360.1,390.1 343.6,383.1 343.6,357.6 349.8,352.5" fill="none" stroke="#0d0d0d" stroke-width="1.50" stroke-linejoin="round" stroke-linecap="round"/>
<polyline points="407.2,253.9 407.3,351.3 360.1,390.1" fill="none" stroke="#0d0d0d" stroke-width="2.10" stroke-linejoin="round" stroke-linecap="round"/>
<polyline points="383.6,255.8 398.2,258.2 407.2,253.9" fill="none" stroke="#3a3326" stroke-width="0.50" stroke-linejoin="round" stroke-linecap="round"/>
</g>

<g fill="none" stroke="#dd7230" stroke-width="1.25">
<path d="M410.7 149.3H545"/><circle cx="547.4" cy="149.3" r="2.3"/>
<path d="M423 311.2H585.3"/><circle cx="587.7" cy="311.2" r="2.3"/>
<path d="M434.3 535H611"/><circle cx="613.3" cy="535" r="2.3" fill="#fff"/>
<path d="M785.8 143.3H920"/><circle cx="783.4" cy="143.3" r="2.3" fill="#fff"/>
<path d="M786 383H920"/><circle cx="783.6" cy="383" r="2.3"/>
</g>

<g class="t">
<text x="346.70" y="93.70" fill="#d66a27" letter-spacing="-0.925" stroke="#d66a27" stroke-width="0.35">TYPE:</text>
<text x="245.50" y="117.40" fill="#1c1c1c" letter-spacing="0.000">Picture, casement,</text>
<text x="294.70" y="141.10" fill="#1c1c1c" letter-spacing="0.911">and awning</text>
<text x="288.50" y="165.20" fill="#1c1c1c" letter-spacing="0.650">windows are</text>
<text x="326.10" y="189.50" fill="#1c1c1c" letter-spacing="-0.014">the most</text>
<text x="260.10" y="213.20" fill="#1c1c1c" letter-spacing="0.450">energy efficient.</text>
<text x="247.70" y="281.60" fill="#d66a27" letter-spacing="-0.429" stroke="#d66a27" stroke-width="0.35">GRILLES:</text>
<text x="222.00" y="305.60" fill="#1c1c1c" letter-spacing="0.583">Avoid grilles</text>
<text x="216.90" y="329.90" fill="#1c1c1c" letter-spacing="0.642">altogether or</text>
<text x="187.70" y="354.10" fill="#1c1c1c" letter-spacing="0.393">select an energy</text>
<text x="230.60" y="378.10" fill="#1c1c1c" letter-spacing="0.520">spacer bar.</text>
<text x="147.50" y="530.10" fill="#d66a27" letter-spacing="0.638" stroke="#d66a27" stroke-width="0.35">DUAL-PANE</text>
<text x="188.00" y="556.20" fill="#d66a27" letter-spacing="0.260" stroke="#d66a27" stroke-width="0.35">GLASS:</text>
<text x="90.30" y="579.70" fill="#1c1c1c" letter-spacing="0.547">Works well in many</text>
<text x="100.70" y="603.80" fill="#1c1c1c" letter-spacing="0.250">climates and is the</text>
<text x="116.90" y="628.40" fill="#1c1c1c" letter-spacing="0.480">standard option.</text>
<text x="331.70" y="644.40" fill="#d66a27" letter-spacing="-0.130" stroke="#d66a27" stroke-width="0.35">TRIPLE-PANE</text>
<text x="331.70" y="668.30" fill="#d66a27" letter-spacing="0.260" stroke="#d66a27" stroke-width="0.35">GLASS:</text>
<text x="331.70" y="692.70" fill="#1c1c1c" letter-spacing="-0.067">This is our most</text>
<text x="331.70" y="716.80" fill="#1c1c1c" letter-spacing="0.573">energy-efficient</text>
<text x="331.70" y="740.80" fill="#1c1c1c" letter-spacing="0.450">glass option and is</text>
<text x="331.70" y="765.10" fill="#1c1c1c" letter-spacing="0.537">especially impactful</text>
<text x="331.70" y="789.50" fill="#1c1c1c" letter-spacing="0.480">in Northern climates.</text>
<text x="933.40" y="93.00" fill="#d66a27" letter-spacing="0.880" stroke="#d66a27" stroke-width="0.35">LOW-E GLASS COATINGS:</text>
<text x="933.40" y="117.60" fill="#1c1c1c" letter-spacing="0.660">Low-E/Low-E4<tspan font-size="5.6" dy="-8.3" letter-spacing="0" stroke="none">®</tspan><tspan dy="8.3"> coatings come</tspan></text>
<text x="933.40" y="141.40" fill="#1c1c1c" letter-spacing="0.519">standard with other options</text>
<text x="933.40" y="165.40" fill="#1c1c1c" letter-spacing="0.647">available to improve efficiency</text>
<text x="933.40" y="189.40" fill="#1c1c1c" letter-spacing="0.454">in climate-specific ways.</text>
<text x="1075.00" y="268.70" fill="#d66a27" letter-spacing="-0.233" stroke="#d66a27" stroke-width="0.35">NFRC</text>
<text x="1075.00" y="292.80" fill="#d66a27" letter-spacing="1.612" stroke="#d66a27" stroke-width="0.35">(NATIONAL</text>
<text x="1075.00" y="316.50" fill="#d66a27" letter-spacing="0.464" stroke="#d66a27" stroke-width="0.35">FENESTRATION</text>
<text x="1075.00" y="340.70" fill="#d66a27" letter-spacing="1.140" stroke="#d66a27" stroke-width="0.35">RATING</text>
<text x="1075.00" y="364.40" fill="#d66a27" letter-spacing="0.900" stroke="#d66a27" stroke-width="0.35">COUNCIL<tspan font-size="5.6" dy="-8.3" letter-spacing="0" stroke="none">®</tspan><tspan dy="8.3">)</tspan></text>
<text x="1075.00" y="391.40" fill="#d66a27" letter-spacing="-0.340" stroke="#d66a27" stroke-width="0.35">LABEL:</text>
<text x="1074.80" y="414.90" fill="#1c1c1c" letter-spacing="-0.164">Lists energy</text>
<text x="1074.80" y="438.60" fill="#1c1c1c" letter-spacing="0.600">performance</text>
<text x="1074.80" y="462.90" fill="#1c1c1c" letter-spacing="-0.065">measures, such as,</text>
<text x="1074.80" y="486.60" fill="#1c1c1c" letter-spacing="0.656">U-Factor and SHGC</text>
<text x="1074.80" y="510.90" fill="#1c1c1c" letter-spacing="0.640">(Solar Heat Gain</text>
<text x="1074.80" y="535.00" fill="#1c1c1c" letter-spacing="0.358">Coefficient).</text>
<text x="1075.20" y="622.20" fill="#d66a27" letter-spacing="0.111" stroke="#d66a27" stroke-width="0.35">ENERGY STAR<tspan font-size="5.6" dy="-8.3" letter-spacing="0" stroke="none">®</tspan><tspan dy="8.3"> v. 7.0:</tspan></text>
<text x="1075.20" y="646.40" fill="#1c1c1c" letter-spacing="0.545">A dealer or sales rep</text>
<text x="1075.20" y="670.50" fill="#1c1c1c" letter-spacing="0.573">can advise about</text>
<text x="1075.20" y="694.70" fill="#1c1c1c" letter-spacing="0.217">products that meet these</text>
<text x="1075.20" y="718.60" fill="#1c1c1c" letter-spacing="0.462">performance standards.</text>
</g>
</svg>
</body></html>
